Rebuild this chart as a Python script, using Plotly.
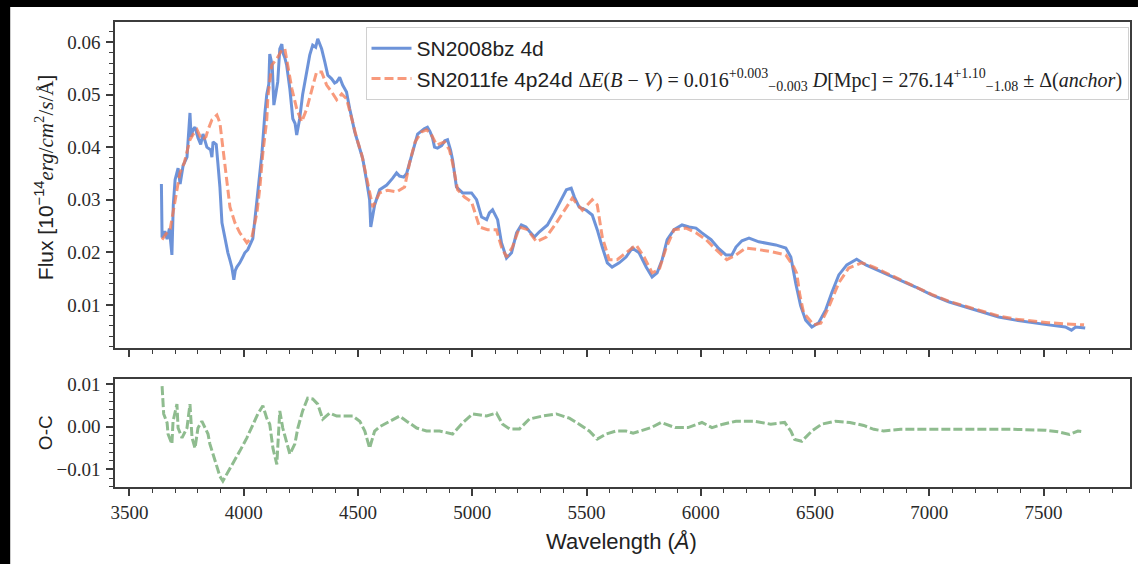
import plotly.graph_objects as go

# ---------------- data ----------------
wl_08bz = [3640, 3643, 3655, 3665, 3675, 3686, 3692, 3700, 3713, 3722, 3735, 3752, 3765, 3770,
           3778, 3787, 3800, 3812, 3822, 3839, 3855, 3861, 3866, 3880, 3887, 3896, 3905, 3918,
           3931, 3940, 3948, 3957, 3963, 3970, 3983, 3995, 4005, 4018, 4030, 4040, 4049, 4062,
           4075, 4080, 4093, 4101, 4110, 4114, 4125, 4132, 4140, 4149, 4158, 4167, 4171, 4180,
           4188, 4202, 4215, 4225, 4232, 4240, 4245, 4258, 4276, 4289, 4302, 4315, 4324, 4334,
           4341, 4355, 4368, 4385, 4398, 4407, 4420, 4433, 4450, 4464, 4486, 4508, 4521, 4538,
           4551, 4556, 4565, 4573, 4595, 4626, 4652, 4669, 4682, 4700, 4713, 4726, 4739, 4761,
           4790, 4804, 4815, 4826, 4835, 4848, 4866, 4880, 4892, 4905, 4914, 4931, 4958, 4997,
           5019, 5041, 5063, 5075, 5089, 5100, 5111, 5128, 5150, 5172, 5194, 5215, 5235, 5250,
           5272, 5294, 5329, 5359, 5390, 5412, 5433, 5447, 5468, 5499, 5525, 5547, 5569, 5591,
           5612, 5643, 5673, 5700, 5730, 5761, 5787, 5809, 5831, 5853, 5883, 5918, 5949, 5979,
           6005, 6045, 6079, 6110, 6136, 6154, 6180, 6211, 6254, 6285, 6328, 6372, 6394, 6416,
           6437, 6459, 6486, 6516, 6547, 6573, 6604, 6639, 6682, 6722, 6792, 6866, 6940, 7010,
           7084, 7159, 7228, 7303, 7377, 7447, 7521, 7595, 7622, 7640, 7682]
flux_08bz = [0.0330, 0.0228, 0.0240, 0.0225, 0.0245, 0.0195, 0.0290, 0.0338, 0.0360, 0.0330,
             0.0365, 0.0381, 0.0465, 0.0420, 0.0433, 0.0438, 0.0418, 0.0405, 0.0425, 0.0400,
             0.0395, 0.0381, 0.0410, 0.0405, 0.0370, 0.0324, 0.0256, 0.0224, 0.0199, 0.0185,
             0.0172, 0.0148, 0.0165, 0.0172, 0.0180, 0.0190, 0.0199, 0.0205, 0.0215, 0.0226,
             0.0262, 0.0319, 0.0370, 0.0389, 0.0465, 0.0500, 0.0520, 0.0577, 0.0556, 0.0480,
             0.0500, 0.0524, 0.0587, 0.0596, 0.0580, 0.0570, 0.0556, 0.0511, 0.0454, 0.0445,
             0.0423, 0.0440, 0.0454, 0.0500, 0.0543, 0.0575, 0.0594, 0.0590, 0.0606, 0.0595,
             0.0587, 0.0562, 0.0537, 0.0530, 0.0522, 0.0524, 0.0533, 0.0518, 0.0505, 0.0473,
             0.0429, 0.0397, 0.0378, 0.0335, 0.0300, 0.0248, 0.0270, 0.0290, 0.0319, 0.0328,
             0.0341, 0.0351, 0.0345, 0.0343, 0.0350, 0.0370, 0.0392, 0.0425, 0.0435, 0.0438,
             0.0430, 0.0418, 0.0400, 0.0398, 0.0403, 0.0412, 0.0414, 0.0395, 0.0376, 0.0324,
             0.0313, 0.0313, 0.0300, 0.0267, 0.0262, 0.0275, 0.0281, 0.0270, 0.0262, 0.0218,
             0.0189, 0.0199, 0.0237, 0.0252, 0.0248, 0.0240, 0.0229, 0.0239, 0.0252, 0.0275,
             0.0300, 0.0319, 0.0322, 0.0305, 0.0286, 0.0280, 0.0271, 0.0243, 0.0210, 0.0180,
             0.0172, 0.0180, 0.0191, 0.0208, 0.0199, 0.0172, 0.0153, 0.0161, 0.0186, 0.0224,
             0.0243, 0.0252, 0.0248, 0.0246, 0.0237, 0.0224, 0.0207, 0.0195, 0.0195, 0.0210,
             0.0222, 0.0227, 0.0220, 0.0218, 0.0214, 0.0208, 0.0191, 0.0140, 0.0098, 0.0071,
             0.0058, 0.0066, 0.0091, 0.0123, 0.0157, 0.0176, 0.0187, 0.0176, 0.0163, 0.0148,
             0.0134, 0.0119, 0.0106, 0.0096, 0.0087, 0.0077, 0.0071, 0.0066, 0.0062, 0.0058,
             0.0052, 0.0058, 0.0056]

wl_11fe = [3643, 3660, 3678, 3700, 3708, 3721, 3740, 3752, 3765, 3780, 3796, 3810, 3822, 3835,
           3844, 3861, 3883, 3896, 3909, 3927, 3940, 3962, 3983, 4014, 4036, 4058, 4071, 4084,
           4101, 4106, 4123, 4145, 4167, 4180, 4193, 4211, 4232, 4254, 4276, 4298, 4319, 4341,
           4363, 4385, 4407, 4429, 4450, 4473, 4495, 4517, 4538, 4551, 4565, 4595, 4630, 4669,
           4704, 4726, 4750, 4778, 4800, 4820, 4844, 4879, 4900, 4914, 4936, 4966, 4997, 5032,
           5067, 5106, 5128, 5150, 5176, 5207, 5242, 5281, 5324, 5368, 5412, 5438, 5482, 5525,
           5547, 5569, 5599, 5634, 5673, 5717, 5752, 5787, 5818, 5848, 5883, 5936, 5979, 6023,
           6067, 6114, 6154, 6197, 6254, 6311, 6372, 6407, 6420, 6433, 6450, 6494, 6525, 6560,
           6604, 6647, 6704, 6757, 6800, 6875, 6940, 7010, 7084, 7159, 7228, 7303, 7377, 7447,
           7521, 7595, 7677]
flux_11fe = [0.0224, 0.0235, 0.0243, 0.0300, 0.0319, 0.0351, 0.0370, 0.0389, 0.0414, 0.0425,
             0.0433, 0.0420, 0.0414, 0.0420, 0.0433, 0.0452, 0.0461, 0.0446, 0.0400, 0.0338,
             0.0286, 0.0256, 0.0237, 0.0218, 0.0229, 0.0275, 0.0324, 0.0389, 0.0452, 0.0495,
             0.0556, 0.0568, 0.0585, 0.0587, 0.0556, 0.0511, 0.0473, 0.0448, 0.0473, 0.0511,
             0.0543, 0.0543, 0.0518, 0.0505, 0.0490, 0.0501, 0.0492, 0.0454, 0.0416, 0.0385,
             0.0340, 0.0319, 0.0286, 0.0313, 0.0318, 0.0315, 0.0324, 0.0370, 0.0410, 0.0429,
             0.0433, 0.0425, 0.0404, 0.0410, 0.0395, 0.0370, 0.0319, 0.0305, 0.0296, 0.0248,
             0.0243, 0.0243, 0.0210, 0.0191, 0.0210, 0.0248, 0.0243, 0.0220, 0.0229, 0.0256,
             0.0286, 0.0303, 0.0280, 0.0300, 0.0290, 0.0229, 0.0186, 0.0186, 0.0199, 0.0214,
             0.0191, 0.0161, 0.0167, 0.0208, 0.0243, 0.0246, 0.0237, 0.0224, 0.0205, 0.0186,
             0.0195, 0.0208, 0.0205, 0.0201, 0.0195, 0.0172, 0.0160, 0.0120, 0.0085, 0.0062,
             0.0065, 0.0096, 0.0142, 0.0170, 0.0180, 0.0172, 0.0163, 0.0148, 0.0135, 0.0120,
             0.0107, 0.0097, 0.0088, 0.0079, 0.0073, 0.0069, 0.0066, 0.0064, 0.0062]

wl_oc = [3643, 3646, 3650, 3665, 3669, 3686, 3691, 3708, 3713, 3730, 3752, 3765, 3774, 3787,
         3800, 3817, 3831, 3844, 3852, 3866, 3883, 3896, 3909, 3927, 3953, 3983, 4014, 4040,
         4062, 4084, 4101, 4114, 4128, 4145, 4158, 4171, 4188, 4202, 4224, 4237, 4258, 4280,
         4302, 4324, 4346, 4376, 4407, 4450, 4477, 4508, 4530, 4551, 4573, 4595, 4639, 4682,
         4713, 4757, 4800, 4857, 4914, 4958, 5002, 5063, 5106, 5133, 5163, 5207, 5250, 5307,
         5368, 5425, 5468, 5512, 5547, 5586, 5630, 5673, 5704, 5783, 5826, 5888, 5944, 6005,
         6049, 6097, 6154, 6232, 6306, 6367, 6394, 6411, 6442, 6486, 6529, 6590, 6652, 6713,
         6757, 6800, 6875, 7058, 7355, 7508, 7565, 7613, 7650, 7677]
oc = [0.0095, 0.0053, 0.0030, 0.0009, -0.0017, -0.0040, 0.0013, 0.0053, -0.0003, -0.0026,
      -0.0003, 0.0053, -0.0026, -0.0050, -0.0003, 0.0013, -0.0003, -0.0017, -0.0040, -0.0064,
      -0.0097, -0.0116, -0.0127, -0.0110, -0.0088, -0.0057, -0.0026, 0.0006, 0.0030, 0.0049,
      0.0020, 0.0006, -0.0050, -0.0088, 0.0037, -0.0003, -0.0040, -0.0064, -0.0040, -0.0003,
      0.0037, 0.0067, 0.0065, 0.0053, 0.0018, 0.0032, 0.0025, 0.0025, 0.0025, 0.0013,
      -0.0010, -0.0050, -0.0010, 0.0000, 0.0013, 0.0025, 0.0013, -0.0003, -0.0010, -0.0010,
      -0.0017, 0.0009, 0.0030, 0.0025, 0.0032, 0.0006, -0.0005, -0.0005, 0.0018, 0.0025,
      0.0030, 0.0020, 0.0006, -0.0010, -0.0029, -0.0017, -0.0010, -0.0010, -0.0015, -0.0002,
      0.0010, -0.0002, -0.0002, 0.0010, -0.0002, 0.0006, 0.0013, 0.0013, 0.0006, 0.0010,
      -0.0010, -0.0030, -0.0034, -0.0010, 0.0006, 0.0013, 0.0010, 0.0003, -0.0006, -0.0010,
      -0.0006, -0.0006, -0.0006, -0.0008, -0.0012, -0.0018, -0.0010, -0.0012]

x_ticks = [3500, 4000, 4500, 5000, 5500, 6000, 6500, 7000, 7500]
y_ticks_top = [0.01, 0.02, 0.03, 0.04, 0.05, 0.06]
y_ticks_bot = [-0.01, 0.0, 0.01]
y_ticktext_bot = ["\u22120.01", "0.00", "0.01"]

name_08bz = "SN2008bz 4d"
name_11fe = ("SN2011fe 4p24d <span style=\"font-family:Liberation Serif;font-size:20px\">"
             "\u0394<i>E</i>(<i>B</i> \u2212 <i>V</i>) = 0.016<sup>+0.003</sup><sub>\u22120.003</sub> "
             "<i>D</i>[Mpc] = 276.14<sup>+1.10</sup><sub>\u22121.08</sub> \u00b1 \u0394(<i>anchor</i>)</span>")
ylabel_top = ("Flux [10<sup>\u221214</sup><span style=\"font-family:Liberation Serif\">"
              "<i>erg</i>/<i>cm</i><sup>2</sup>/<i>s</i>/\u00c5</span>]")

# ---------------- figure ----------------
W, H = 1138, 564
ML, MR, MT, MB = 115, 6, 22, 77
PW, PH = W - ML - MR, H - MT - MB

def py2paper(py):
    return (H - MB - py) / PH

def px2paper(px):
    return (px - ML) / PW

AXC = "#3c3c3c"
TICKFONT = dict(family="Liberation Serif", size=19, color="#2a2a2a")

fig = go.Figure()
fig.add_trace(go.Scatter(x=wl_08bz, y=flux_08bz, mode="lines", name=name_08bz,
                         line=dict(color="rgba(72,120,208,0.8)", width=3),
                         xaxis="x", yaxis="y"))
fig.add_trace(go.Scatter(x=wl_11fe, y=flux_11fe, mode="lines", name=name_11fe,
                         line=dict(color="rgba(245,120,80,0.75)", width=3, dash="9px,4px"),
                         xaxis="x", yaxis="y"))
fig.add_trace(go.Scatter(x=wl_oc, y=oc, mode="lines", showlegend=False,
                         line=dict(color="#8fbc8f", width=3, dash="9px,3px"),
                         xaxis="x2", yaxis="y2"))

common_x = dict(range=[3437, 7878], tickvals=x_ticks, ticks="outside", ticklen=7, tickwidth=1.5,
                tickcolor=AXC, showline=True, linecolor=AXC, linewidth=1.5, mirror=True,
                showgrid=False, zeroline=False,
                minor=dict(dtick=100, tick0=3500, ticks="outside", ticklen=4, tickwidth=1.2,
                           tickcolor=AXC, showgrid=False))
common_y = dict(ticks="outside", ticklen=7, tickwidth=1.5, tickcolor=AXC, showline=True,
                linecolor=AXC, linewidth=1.5, mirror=True, showgrid=False, zeroline=False,
                tickfont=TICKFONT, ticklabelstandoff=2)

top_bottom = py2paper(348)
bot_top = py2paper(379.3)

fig.update_layout(
    width=W, height=H,
    margin=dict(l=ML, r=MR, t=MT, b=MB),
    paper_bgcolor="white", plot_bgcolor="white",
    xaxis=dict(common_x, anchor="y", domain=[0, 1], showticklabels=False),
    yaxis=dict(common_y, domain=[top_bottom, 1], range=[0.0018, 0.0638],
               tickvals=y_ticks_top, tickformat=".2f",
               minor=dict(dtick=0.002, tick0=0, ticks="outside", ticklen=4, tickwidth=1.2,
                          tickcolor=AXC, showgrid=False)),
    xaxis2=dict(common_x, anchor="y2", domain=[0, 1], matches="x", tickfont=TICKFONT),
    yaxis2=dict(common_y, domain=[0, bot_top], range=[-0.0141, 0.0111],
                tickvals=y_ticks_bot, ticktext=y_ticktext_bot,
                minor=dict(dtick=0.002, tick0=0, ticks="outside", ticklen=4, tickwidth=1.2,
                           tickcolor=AXC, showgrid=False)),
    legend=dict(x=px2paper(366), y=py2paper(27), xanchor="left", yanchor="top",
                bgcolor="white", bordercolor="#d0d0d0", borderwidth=1,
                font=dict(family="Liberation Sans", size=21, color="#222"),
                tracegroupgap=2, itemwidth=40),
    showlegend=True,
)

fig.add_annotation(text=ylabel_top,
                   xref="paper", yref="paper", x=px2paper(45), y=py2paper(178),
                   textangle=-90, showarrow=False, xanchor="center", yanchor="middle",
                   font=dict(family="Liberation Sans", size=21, color="#222"))
fig.add_annotation(text="O-C", xref="paper", yref="paper", x=px2paper(45), y=py2paper(433),
                   textangle=-90, showarrow=False, xanchor="center", yanchor="middle",
                   font=dict(family="Liberation Sans", size=19, color="#222"))
fig.add_annotation(text="Wavelength (<i>\u00c5</i>)", xref="paper", yref="paper",
                   x=px2paper(622), y=py2paper(541), showarrow=False,
                   xanchor="center", yanchor="middle",
                   font=dict(family="Liberation Sans", size=22, color="#222"))

# black frame strips of the original screenshot (top and left)
fig.add_shape(type="rect", xref="paper", yref="paper", x0=px2paper(-2), x1=px2paper(10),
              y0=py2paper(570), y1=py2paper(-2), fillcolor="black", line=dict(width=0),
              layer="above")
fig.add_shape(type="rect", xref="paper", yref="paper", x0=px2paper(-2), x1=px2paper(1140),
              y0=py2paper(7), y1=py2paper(-2), fillcolor="black", line=dict(width=0),
              layer="above")

fig.write_html("out.html")
